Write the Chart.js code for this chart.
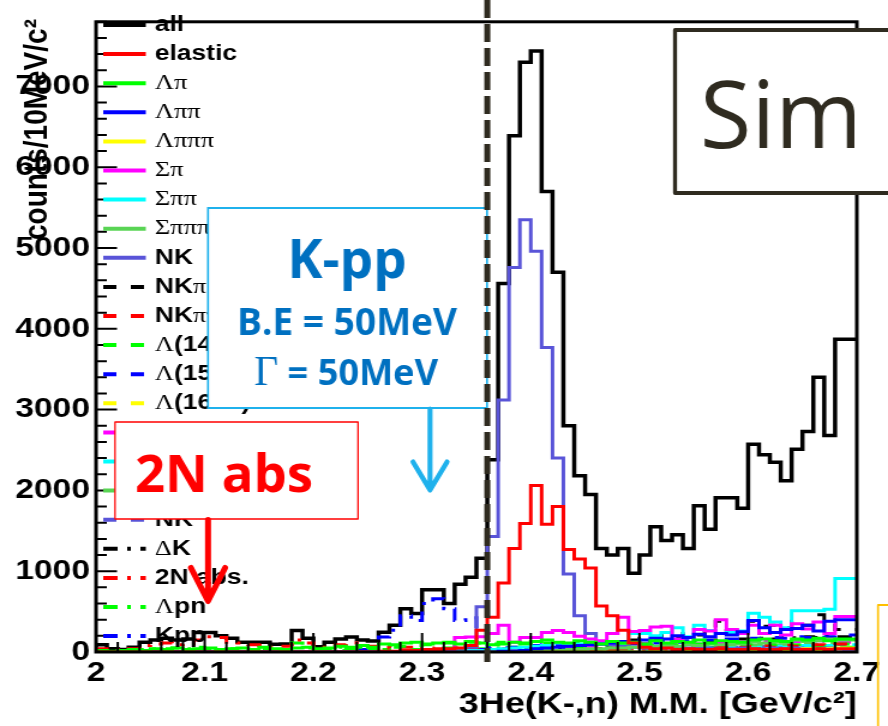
<!DOCTYPE html>
<html>
<head>
<meta charset="utf-8">
<script src="https://cdn.jsdelivr.net/npm/chart.js@4.4.1/dist/chart.umd.min.js"></script>
<style>
html, body { margin: 0; padding: 0; background: #fff; overflow: hidden; }
#wrap { position: absolute; left: 0; top: 0; width: 740px; height: 726px; transform: scaleX(1.2); transform-origin: 0 0; }
</style>
</head>
<body>
<div id="wrap"><canvas id="c"></canvas></div>
<script>
// the slide picture is stretched sideways, so the chart is drawn narrow and widened
var STRETCH = 1.2;

// 10 MeV bins from 2.00 to 2.70 GeV/c2
var binLow = 2.0, binWidth = 0.01, nBins = 70;
var binEdges = [];
for (var i = 0; i <= nBins; i++) binEdges.push(+(binLow + i * binWidth).toFixed(2));

var xTickVals = [2.0, 2.1, 2.2, 2.3, 2.4, 2.5, 2.6, 2.7];
var xTickLabels = ['2', '2.1', '2.2', '2.3', '2.4', '2.5', '2.6', '2.7'];
var yTickVals = [0, 1000, 2000, 3000, 4000, 5000, 6000, 7000];
var yMax = 7800;
var kppLine = 2.36;

// counts per bin
var all = [
  60, 90, 40, 30, 60, 120, 150, 170, 150, 160,
  240, 240, 200, 170, 120, 120, 120, 95, 100, 265,
  170, 65, 120, 160, 185, 150, 135, 245, 330, 535,
  475, 770, 770, 600, 840, 925, 1160, 2380, 4560, 6390,
  7300, 7440, 5700, 4700, 2800, 2180, 1950, 1280, 1200, 1280,
  975, 1200, 1550, 1380, 1450, 1280, 1810, 1520, 1910, 1910,
  1780, 2570, 2440, 2350, 2120, 2510, 2730, 3400, 2680, 3870];
var elastic = [
  0, 0, 0, 0, 0, 0, 0, 0, 0, 0,
  0, 0, 0, 0, 0, 0, 0, 0, 0, 0,
  0, 0, 0, 0, 0, 0, 0, 10, 10, 20,
  20, 30, 30, 40, 50, 80, 270, 430, 855, 1280,
  1590, 2060, 1580, 1800, 1270, 1150, 1040, 570, 450, 270,
  110, 60, 40, 50, 30, 40, 30, 30, 40, 30,
  30, 40, 30, 30, 40, 30, 30, 40, 30, 40];
var lamPi = [
  10, 20, 10, 20, 30, 20, 40, 30, 50, 30,
  40, 50, 30, 40, 50, 30, 60, 40, 30, 50,
  60, 40, 50, 70, 60, 80, 60, 100, 90, 110,
  120, 100, 110, 120, 100, 130, 110, 90, 100, 120,
  110, 130, 150, 120, 110, 140, 120, 100, 130, 110,
  120, 100, 140, 110, 130, 120, 150, 110, 140, 130,
  120, 150, 160, 140, 130, 160, 150, 170, 140, 160];
var lamPiPi = [
  0, 0, 0, 0, 0, 0, 0, 0, 0, 0,
  0, 0, 0, 0, 0, 0, 0, 0, 0, 0,
  0, 0, 0, 0, 0, 0, 0, 0, 0, 0,
  0, 0, 0, 0, 0, 0, 0, 0, 10, 10,
  20, 40, 50, 60, 70, 80, 90, 100, 110, 130,
  120, 150, 170, 160, 200, 180, 220, 190, 230, 210,
  250, 390, 300, 240, 280, 290, 330, 260, 380, 400];
var lamPiPiPi = [
  0, 0, 0, 0, 0, 0, 0, 0, 0, 0,
  0, 0, 0, 0, 0, 0, 0, 0, 0, 0,
  0, 0, 0, 0, 0, 0, 0, 0, 0, 0,
  0, 0, 0, 0, 0, 0, 0, 0, 0, 0,
  0, 0, 0, 0, 0, 0, 0, 0, 0, 0,
  0, 0, 0, 0, 0, 10, 0, 10, 20, 10,
  20, 10, 30, 20, 30, 20, 40, 30, 40, 50];
var sigPi = [
  0, 0, 0, 0, 0, 0, 0, 0, 0, 0,
  0, 0, 0, 0, 0, 0, 0, 0, 0, 0,
  0, 0, 0, 0, 0, 0, 0, 0, 0, 0,
  10, 10, 20, 20, 180, 185, 190, 230, 330, 120,
  180, 180, 240, 265, 240, 195, 160, 140, 230, 430,
  255, 265, 310, 320, 160, 180, 280, 260, 400, 280,
  230, 330, 230, 330, 210, 350, 285, 370, 230, 440];
var sigPiPi = [
  0, 0, 0, 0, 0, 0, 0, 0, 0, 0,
  0, 0, 0, 0, 0, 0, 0, 0, 0, 0,
  0, 0, 0, 0, 0, 0, 0, 0, 0, 0,
  0, 0, 0, 10, 10, 20, 20, 30, 40, 50,
  60, 70, 80, 110, 100, 100, 120, 110, 130, 110,
  230, 230, 200, 240, 300, 190, 330, 265, 230, 240,
  260, 480, 430, 370, 300, 510, 510, 510, 530, 910];
var sigPiPiPi = [
  0, 0, 0, 0, 0, 0, 0, 0, 0, 0,
  0, 0, 0, 0, 0, 0, 0, 0, 0, 0,
  0, 0, 0, 0, 0, 0, 0, 0, 0, 0,
  0, 0, 0, 0, 0, 0, 0, 0, 0, 0,
  10, 10, 20, 20, 30, 30, 40, 40, 50, 50,
  60, 60, 70, 80, 70, 90, 80, 100, 90, 110,
  100, 120, 110, 130, 120, 150, 130, 140, 160, 150];
var nk = [
  0, 0, 0, 0, 0, 0, 0, 0, 0, 0,
  0, 0, 0, 0, 0, 0, 0, 0, 0, 0,
  0, 0, 0, 0, 0, 0, 0, 0, 0, 0,
  0, 0, 0, 20, 40, 60, 560, 1430, 3120, 4760,
  5350, 4960, 3770, 2400, 965, 450, 230, 120, 90, 70,
  60, 50, 60, 50, 40, 50, 40, 50, 40, 40,
  50, 40, 40, 50, 40, 50, 40, 40, 50, 40];
var nkPi = [
  0, 0, 0, 0, 0, 0, 0, 0, 0, 0,
  0, 0, 0, 0, 0, 0, 0, 0, 0, 0,
  0, 0, 0, 0, 0, 0, 0, 0, 0, 0,
  0, 0, 0, 0, 0, 0, 0, 0, 10, 10,
  20, 40, 60, 50, 80, 90, 100, 110, 130, 120,
  150, 170, 160, 200, 180, 230, 210, 260, 380, 270,
  300, 380, 320, 330, 300, 380, 330, 460, 350, 280];
var nkPiPi = [
  0, 0, 0, 0, 0, 0, 0, 0, 0, 0,
  0, 0, 0, 0, 0, 0, 0, 0, 0, 0,
  0, 0, 0, 0, 0, 0, 0, 0, 0, 0,
  0, 0, 0, 0, 0, 0, 0, 0, 0, 0,
  0, 10, 10, 20, 20, 30, 30, 40, 30, 40,
  40, 50, 40, 60, 50, 60, 50, 70, 60, 80,
  60, 70, 80, 60, 90, 70, 80, 90, 70, 100];
var lam1405Pi = [
  0, 0, 0, 0, 0, 0, 0, 0, 0, 0,
  0, 0, 0, 0, 0, 0, 0, 0, 0, 0,
  10, 10, 20, 20, 30, 30, 40, 50, 60, 70,
  80, 90, 100, 110, 100, 120, 110, 100, 120, 110,
  100, 120, 110, 90, 100, 110, 90, 100, 80, 90,
  100, 90, 80, 100, 90, 80, 100, 90, 80, 100,
  90, 100, 80, 90, 110, 90, 100, 80, 110, 100];
var lam1520Pi = [
  0, 0, 0, 0, 0, 0, 0, 0, 0, 0,
  0, 0, 0, 0, 0, 0, 0, 0, 0, 0,
  0, 0, 0, 0, 0, 0, 0, 0, 0, 0,
  0, 0, 0, 0, 10, 20, 30, 40, 50, 60,
  70, 80, 90, 80, 100, 90, 110, 100, 120, 110,
  100, 120, 110, 130, 120, 140, 130, 150, 140, 160,
  150, 170, 160, 180, 170, 190, 180, 200, 190, 210];
var lam1600Pi = [
  0, 0, 0, 0, 0, 0, 0, 0, 0, 0,
  0, 0, 0, 0, 0, 0, 0, 0, 0, 0,
  0, 0, 0, 0, 0, 0, 0, 0, 0, 0,
  0, 0, 0, 0, 0, 0, 0, 0, 0, 0,
  0, 0, 0, 0, 0, 0, 0, 0, 0, 0,
  0, 0, 10, 0, 10, 10, 20, 10, 20, 20,
  30, 20, 30, 30, 40, 30, 40, 40, 50, 40];
var sig1385Pi = [
  0, 0, 0, 0, 0, 0, 0, 0, 0, 0,
  0, 0, 0, 0, 0, 0, 0, 0, 0, 0,
  0, 0, 0, 0, 0, 0, 0, 0, 0, 0,
  0, 0, 0, 0, 0, 0, 0, 0, 10, 20,
  30, 40, 50, 60, 60, 70, 70, 80, 80, 90,
  90, 100, 100, 90, 100, 110, 100, 120, 110, 100,
  120, 110, 130, 120, 110, 130, 120, 140, 130, 120];
var sig1385PiPi = [
  0, 0, 0, 0, 0, 0, 0, 0, 0, 0,
  0, 0, 0, 0, 0, 0, 0, 0, 0, 0,
  0, 0, 0, 0, 0, 0, 0, 0, 0, 0,
  0, 0, 0, 0, 0, 0, 0, 0, 0, 0,
  0, 0, 0, 0, 0, 0, 0, 0, 0, 0,
  10, 20, 20, 30, 30, 40, 40, 50, 40, 50,
  60, 50, 60, 70, 60, 70, 80, 70, 80, 90];
var sig1660Pi = [
  0, 0, 0, 0, 0, 0, 0, 0, 0, 0,
  0, 0, 0, 0, 0, 0, 0, 0, 0, 0,
  0, 0, 0, 0, 0, 0, 0, 0, 0, 0,
  0, 0, 0, 0, 0, 0, 0, 0, 0, 0,
  10, 10, 20, 20, 30, 30, 30, 40, 40, 40,
  50, 50, 50, 60, 60, 60, 70, 70, 70, 80,
  80, 80, 90, 90, 90, 100, 100, 100, 110, 110];
var nkStar = [
  0, 0, 0, 0, 0, 0, 0, 0, 0, 0,
  0, 0, 0, 0, 0, 0, 0, 0, 0, 0,
  0, 0, 0, 0, 0, 0, 0, 0, 0, 0,
  0, 0, 0, 0, 0, 0, 0, 0, 0, 0,
  0, 0, 0, 0, 10, 10, 20, 20, 20, 30,
  30, 30, 40, 40, 40, 50, 50, 50, 60, 60,
  60, 70, 70, 70, 80, 80, 80, 90, 90, 90];
var deltaK = [
  0, 0, 0, 0, 0, 0, 0, 0, 0, 0,
  0, 0, 0, 0, 0, 0, 0, 0, 0, 0,
  0, 0, 0, 0, 0, 0, 0, 0, 0, 0,
  0, 0, 0, 0, 0, 0, 10, 20, 30, 40,
  50, 60, 55, 70, 65, 80, 90, 85, 100, 95,
  110, 100, 120, 115, 130, 120, 140, 130, 150, 145,
  160, 150, 170, 160, 185, 175, 190, 180, 200, 190];
var twoNabs = [
  20, 40, 30, 20, 40, 80, 100, 110, 90, 100,
  150, 190, 180, 120, 110, 90, 80, 60, 70, 150,
  110, 40, 80, 90, 110, 80, 70, 60, 50, 60,
  40, 50, 40, 40, 50, 40, 30, 30, 40, 30,
  30, 40, 30, 30, 40, 30, 30, 40, 30, 30,
  40, 30, 40, 30, 30, 40, 30, 30, 40, 30,
  40, 30, 30, 40, 30, 30, 40, 30, 30, 40];
var lamPN = [
  10, 20, 10, 10, 20, 30, 40, 40, 50, 40,
  60, 40, 20, 40, 10, 30, 30, 20, 20, 110,
  50, 20, 30, 60, 40, 60, 40, 30, 80, 40,
  30, 40, 30, 50, 80, 60, 40, 50, 40, 60,
  50, 40, 60, 50, 40, 60, 50, 40, 60, 50,
  40, 60, 50, 40, 60, 50, 40, 60, 50, 40,
  60, 50, 40, 60, 50, 40, 60, 50, 40, 60];
var kpp = [
  0, 0, 0, 0, 0, 0, 0, 0, 0, 0,
  0, 0, 0, 0, 0, 0, 0, 0, 0, 0,
  0, 0, 0, 0, 0, 30, 60, 185, 270, 450,
  390, 600, 660, 535, 390, 425, 150, 60, 30, 10,
  0, 0, 0, 0, 0, 0, 0, 0, 0, 0,
  0, 0, 0, 0, 0, 0, 0, 0, 0, 0,
  0, 0, 0, 0, 0, 0, 0, 0, 0, 0];

var seriesLabels = ['all', 'elastic', 'Λπ', 'Λππ', 'Λπππ', 'Σπ', 'Σππ', 'Σπππ', 'NK',
  'NKπ', 'NKππ', 'Λ(1405)π', 'Λ(1520)π', 'Λ(1600)π', 'Σ(1385)π', 'Σ(1385)ππ', 'Σ(1660)π', 'NK*',
  'ΔK', '2N abs.', 'Λpn', 'Kpp'];
var seriesValues = [all, elastic, lamPi, lamPiPi, lamPiPiPi, sigPi, sigPiPi, sigPiPiPi, nk,
  nkPi, nkPiPi, lam1405Pi, lam1520Pi, lam1600Pi, sig1385Pi, sig1385PiPi, sig1660Pi, nkStar,
  deltaK, twoNabs, lamPN, kpp];

// ROOT colours 1..9, then the same with dashes, then dash-dot
var rootColors = ['#000000', '#ff0000', '#00ff00', '#0000ff', '#ffff00', '#ff00ff', '#00ffff', '#59d454', '#5954d8'];
var DASH = [11, 12];
var DASHDOT = [12, 8, 3, 8];
var seriesColors = rootColors.concat(rootColors).concat(['#000000', '#ff0000', '#00ff00', '#0000ff']);
var seriesDash = [];
for (var k = 0; k < seriesLabels.length; k++) seriesDash.push(k < 9 ? [] : (k < 18 ? DASH : DASHDOT));

function toSteps(vals) {
  var pts = vals.map(function (v, i) { return { x: binEdges[i], y: v }; });
  pts.push({ x: binEdges[nBins], y: vals[nBins - 1] });
  return pts;
}

var SANS = '"Liberation Sans", Arial, sans-serif';
var SERIF = '"Liberation Serif", "Times New Roman", serif';
var SLIDE = '"Open Sans", sans-serif';

function drawMixed(ctx, text, x, y, size) {
  var cx = x;
  for (var i = 0; i < text.length; i++) {
    var ch = text[i];
    var greek = ch >= '\u0370' && ch <= '\u03ff';
    ctx.font = greek ? size + 'px ' + SERIF : 'bold ' + size + 'px ' + SANS;
    ctx.fillText(ch, cx, y);
    cx += ctx.measureText(ch).width;
  }
}

function fitFont(ctx, text, weight, family, targetW) {
  ctx.font = weight + ' 100px ' + family;
  var w = ctx.measureText(text).width;
  var size = 100 * targetW / w;
  ctx.font = weight + ' ' + size.toFixed(1) + 'px ' + family;
  return size;
}

var rootPlugin = {
  id: 'rootPlugin',
  afterDatasetsDraw: function (chart) {
    var ctx = chart.ctx, a = chart.chartArea;
    var xs = chart.scales.x, ys = chart.scales.y;
    ctx.save();
    ctx.strokeStyle = '#000';
    ctx.lineWidth = 2;
    ctx.beginPath();
    // y ticks, major every 1000 and minor every 200, pointing inwards
    for (var k = 0; k <= 39; k++) {
      var py = ys.getPixelForValue(k * 200);
      var len = (k % 5 === 0) ? 17.5 : 9;
      ctx.moveTo(a.left, py);
      ctx.lineTo(a.left + len, py);
    }
    // x ticks, major every 0.1 and minor every 0.02
    for (var m = 0; m <= 35; m++) {
      var px = xs.getPixelForValue(binLow + m * 0.02);
      var l2 = (m % 5 === 0) ? 19 : 10;
      ctx.moveTo(px, a.bottom);
      ctx.lineTo(px, a.bottom - l2);
    }
    ctx.stroke();
    ctx.lineWidth = 3;
    ctx.strokeRect(a.left, a.top, a.right - a.left, a.bottom - a.top);

    // legend in the top left corner
    ctx.textAlign = 'left';
    ctx.textBaseline = 'middle';
    ctx.fillStyle = '#000';
    for (var s = 0; s < seriesLabels.length; s++) {
      var ry = 25 + s * 29.1;
      ctx.beginPath();
      ctx.setLineDash(seriesDash[s]);
      ctx.strokeStyle = seriesColors[s];
      ctx.lineWidth = 4;
      ctx.moveTo(86, ry);
      ctx.lineTo(121.5, ry);
      ctx.stroke();
      ctx.setLineDash([]);
      drawMixed(ctx, seriesLabels[s], 129, ry, 22);
    }
    ctx.restore();
  },
  afterDraw: function (chart) {
    var ctx = chart.ctx;
    var xs = chart.scales.x;
    ctx.save();
    // y axis title, overlapping the tick labels as in ROOT
    ctx.save();
    ctx.translate(31, 240);
    ctx.rotate(-Math.PI / 2);
    ctx.font = 'bold 28px ' + SANS;
    ctx.fillStyle = '#000';
    ctx.textAlign = 'left';
    ctx.textBaseline = 'middle';
    ctx.fillText('counts/10MeV/c²', 0, 0);
    ctx.restore();

    // slide annotations, drawn in page pixels
    ctx.scale(1 / STRETCH, 1);

    // K-pp box
    ctx.fillStyle = '#fff';
    ctx.fillRect(208, 208, 279, 200);
    ctx.strokeStyle = '#1fb1ec';
    ctx.lineWidth = 2;
    ctx.strokeRect(208, 208, 279, 200);
    ctx.fillStyle = '#0070c0';
    ctx.textAlign = 'center';
    ctx.textBaseline = 'alphabetic';
    fitFont(ctx, 'K-pp', 'bold', SLIDE, 119);
    ctx.fillText('K-pp', 347, 278);
    fitFont(ctx, 'B.E = 50MeV', 'bold', SLIDE, 220);
    ctx.fillText('B.E = 50MeV', 347, 335);
    var gSize = fitFont(ctx, ' = 50MeV', 'bold', SLIDE, 160);
    var restW = ctx.measureText(' = 50MeV').width;
    ctx.font = (gSize * 1.15).toFixed(1) + 'px ' + SERIF;
    var gW = ctx.measureText('Γ').width;
    var gx = 346 - (gW + restW) / 2;
    ctx.textAlign = 'left';
    ctx.fillText('Γ', gx, 385);
    ctx.font = 'bold ' + gSize.toFixed(1) + 'px ' + SLIDE;
    ctx.fillText(' = 50MeV', gx + gW, 385);

    // K-pp arrow
    ctx.strokeStyle = '#1fb1ec';
    ctx.lineWidth = 5;
    ctx.lineCap = 'round';
    ctx.lineJoin = 'round';
    ctx.beginPath();
    ctx.moveTo(430, 409);
    ctx.lineTo(430, 489);
    ctx.moveTo(413, 462);
    ctx.lineTo(430, 490);
    ctx.lineTo(447, 462);
    ctx.stroke();

    // dashed marker at the K-pp threshold
    var dx = xs.getPixelForValue(kppLine) * STRETCH;
    ctx.strokeStyle = '#2f2b20';
    ctx.lineWidth = 6;
    ctx.lineCap = 'butt';
    ctx.setLineDash([18, 6]);
    ctx.beginPath();
    ctx.moveTo(dx, 0);
    ctx.lineTo(dx, 662);
    ctx.stroke();
    ctx.setLineDash([]);

    // 2N abs box
    ctx.fillStyle = '#fff';
    ctx.fillRect(115, 422, 243, 97);
    ctx.strokeStyle = '#ff0000';
    ctx.lineWidth = 1.5;
    ctx.strokeRect(115, 422, 243, 97);
    ctx.fillStyle = '#ff0000';
    ctx.textAlign = 'left';
    fitFont(ctx, '2N abs', 'bold', SLIDE, 178);
    ctx.fillText('2N abs', 135, 492);

    // 2N abs arrow
    ctx.strokeStyle = '#ff0000';
    ctx.lineWidth = 6;
    ctx.lineCap = 'round';
    ctx.beginPath();
    ctx.moveTo(208, 520);
    ctx.lineTo(208, 598);
    ctx.moveTo(191, 568);
    ctx.lineTo(208, 601);
    ctx.lineTo(225, 568);
    ctx.stroke();

    // Sim box, running off the right edge
    ctx.fillStyle = '#fff';
    ctx.fillRect(675, 30, 230, 163);
    ctx.strokeStyle = '#2f2b20';
    ctx.lineWidth = 4;
    ctx.lineCap = 'butt';
    ctx.strokeRect(675, 30, 230, 163);
    ctx.fillStyle = '#2f2b20';
    fitFont(ctx, 'Sim', 'normal', SLIDE, 162);
    ctx.fillText('Sim', 700, 148);

    // corner of a neighbouring box
    ctx.strokeStyle = '#ffc000';
    ctx.lineWidth = 2;
    ctx.beginPath();
    ctx.moveTo(878, 726);
    ctx.lineTo(878, 605);
    ctx.lineTo(890, 605);
    ctx.stroke();
    ctx.restore();
  }
};

var datasets = seriesLabels.map(function (label, k) {
  return {
    label: label,
    data: toSteps(seriesValues[k]),
    borderColor: seriesColors[k],
    borderWidth: k === 0 ? 3.5 : 3,
    borderDash: seriesDash[k],
    stepped: 'after',
    pointRadius: 0,
    fill: false,
    order: k === 0 ? 1 : 0
  };
});

var ctx = document.getElementById('c').getContext('2d');
var chart = new Chart(ctx, {
  type: 'line',
  data: { datasets: datasets },
  options: {
    responsive: true,
    maintainAspectRatio: false,
    animation: false,
    events: [],
    layout: { padding: { left: 0, right: 26, top: 10, bottom: 0 } },
    plugins: { legend: { display: false }, tooltip: { enabled: false } },
    scales: {
      x: {
        type: 'linear',
        min: binLow,
        max: binEdges[nBins],
        afterFit: function (s) { s.height = 74; },
        afterBuildTicks: function (s) { s.ticks = xTickVals.map(function (v) { return { value: v }; }); },
        grid: { display: false, drawTicks: false },
        border: { display: false },
        ticks: {
          color: '#000',
          padding: 4,
          maxRotation: 0,
          autoSkip: false,
          font: { family: SANS, size: 28, weight: 'bold' },
          callback: function (v, i) { return xTickLabels[i]; }
        },
        title: {
          display: true,
          text: '3He(K-,n) M.M. [GeV/c²]',
          align: 'end',
          color: '#000',
          font: { family: SANS, size: 30, weight: 'bold' },
          padding: { top: 0, bottom: 3 }
        }
      },
      y: {
        type: 'linear',
        min: 0,
        max: yMax,
        afterFit: function (s) { s.width = 80; },
        afterBuildTicks: function (s) { s.ticks = yTickVals.map(function (v) { return { value: v }; }); },
        grid: { display: false, drawTicks: false },
        border: { display: false },
        ticks: {
          color: '#000',
          padding: 5,
          font: { family: SANS, size: 28, weight: 'bold' },
          callback: function (v) { return String(v); }
        }
      }
    }
  },
  plugins: [rootPlugin]
});
</script>
</body>
</html>
